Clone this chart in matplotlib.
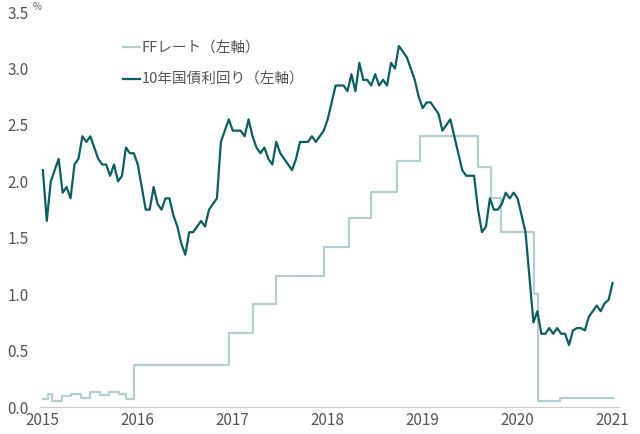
import matplotlib
matplotlib.use("Agg")
import matplotlib.pyplot as plt
import numpy as np

plt.rcParams['font.family'] = ['Noto Sans CJK JP', 'DejaVu Sans']

# 10-year yield, semi-monthly points from Jan 2015 to Jan 2021
y10_dates = np.arange(2015.0, 2021.0 + 1e-9, 1/24)
y10 = [2.1, 1.65, 2.0, 2.1, 2.2, 1.9, 1.95, 1.85, 2.15, 2.2,
       2.4, 2.35, 2.4, 2.3, 2.2, 2.15, 2.15, 2.05, 2.15, 2.0,
       2.05, 2.3, 2.25, 2.25,
       2.15, 1.95, 1.75, 1.75, 1.95, 1.8, 1.75, 1.85, 1.85, 1.7,
       1.6, 1.45, 1.35, 1.55, 1.55, 1.6, 1.65, 1.6, 1.75, 1.8,
       1.85, 2.35, 2.45, 2.55,
       2.45, 2.45, 2.45, 2.4, 2.55, 2.4, 2.3, 2.25, 2.3, 2.2,
       2.15, 2.35, 2.25, 2.2, 2.15, 2.1, 2.2, 2.35, 2.35, 2.35,
       2.4, 2.35, 2.4, 2.45,
       2.55, 2.7, 2.85, 2.85, 2.85, 2.8, 2.95, 2.8, 3.05, 2.9,
       2.9, 2.85, 2.95, 2.85, 2.9, 2.85, 3.05, 3.0, 3.2, 3.15,
       3.1, 3.0, 2.9, 2.75,
       2.65, 2.7, 2.7, 2.65, 2.6, 2.45, 2.5, 2.55, 2.4, 2.25,
       2.1, 2.05, 2.05, 2.05, 1.75, 1.55, 1.6, 1.85, 1.75, 1.75,
       1.8, 1.9, 1.85, 1.9,
       1.85, 1.7, 1.55, 1.15, 0.75, 0.85, 0.65, 0.65, 0.7, 0.65,
       0.7, 0.65, 0.65, 0.55, 0.68, 0.7, 0.7, 0.68, 0.8, 0.85,
       0.9, 0.85, 0.92, 0.95, 1.1]

# FF effective rate (step changes)
ff_dates = [2015.0, 2015.05, 2015.1, 2015.2, 2015.3, 2015.4, 2015.5, 2015.6,
            2015.7, 2015.8, 2015.88, 2015.96, 2016.96, 2017.21, 2017.46,
            2017.96, 2018.22, 2018.46, 2018.73, 2018.97, 2019.58, 2019.72,
            2019.83, 2020.17, 2020.21, 2020.3, 2020.45, 2021.0]
ff = [0.07, 0.12, 0.05, 0.1, 0.12, 0.08, 0.13, 0.11, 0.13, 0.12, 0.07, 0.37,
      0.66, 0.91, 1.16, 1.42, 1.68, 1.91, 2.18, 2.4, 2.13, 1.85, 1.55, 1.0,
      0.05, 0.05, 0.08, 0.08]

fig = plt.figure(figsize=(6.4, 4.34), dpi=100)
ax = fig.add_axes([0.0625, 0.062, 0.905, 0.91])
ax.step(ff_dates, ff, where='post', color='#b5cfcf', lw=1.6, label='FFレート（左軸）')
ax.plot(y10_dates, y10, color='#0b5f5f', lw=1.6, label='10年国債利回り（左軸）')

ax.set_xlim(2014.97, 2021.07)
ax.set_ylim(0, 3.5)
ax.set_xticks([2015, 2016, 2017, 2018, 2019, 2020, 2021])
ax.set_xticklabels(['2015', '2016', '2017', '2018', '2019', '2020', '2021'])
ax.set_yticks([0, 0.5, 1.0, 1.5, 2.0, 2.5, 3.0, 3.5])
ax.set_yticklabels(['0.0', '0.5', '1.0', '1.5', '2.0', '2.5', '3.0', '3.5'])
for s in ['top', 'right', 'left']:
    ax.spines[s].set_visible(False)
ax.spines['bottom'].set_color('#cccccc')
ax.tick_params(length=0, colors='#555555', labelsize=11)
ax.tick_params(axis='y', pad=8)
ax.text(-0.012, 1.0, '%', transform=ax.transAxes, fontsize=7, color='#555555',
        ha='left', va='bottom')
ax.legend(loc='upper left', bbox_to_anchor=(0.12, 0.96), frameon=False,
          handlelength=1.2, handletextpad=0.1, labelspacing=1.2,
          fontsize=10.5, labelcolor='#555555')
fig.savefig('out.png', dpi=100)
